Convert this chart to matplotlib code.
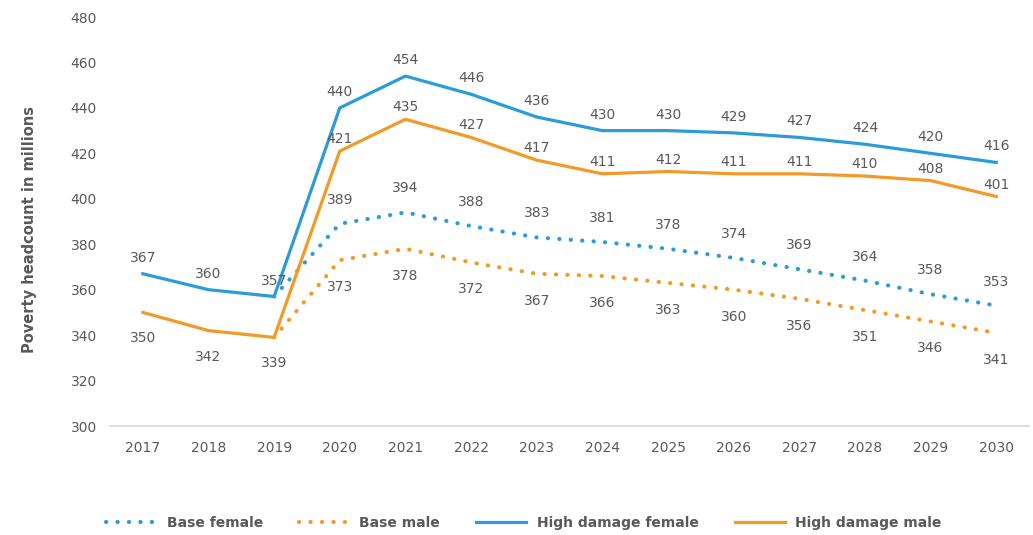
import matplotlib
matplotlib.use('Agg')
import matplotlib.pyplot as plt

plt.rcParams['font.family'] = ['DejaVu Sans']

years = [2017, 2018, 2019, 2020, 2021, 2022, 2023, 2024, 2025, 2026, 2027, 2028, 2029, 2030]
high_female = [367, 360, 357, 440, 454, 446, 436, 430, 430, 429, 427, 424, 420, 416]
high_male = [350, 342, 339, 421, 435, 427, 417, 411, 412, 411, 411, 410, 408, 401]
# base scenarios branch off from 2019
base_years = years[2:]
base_female = [357, 389, 394, 388, 383, 381, 378, 374, 369, 364, 358, 353]
base_male = [339, 373, 378, 372, 367, 366, 363, 360, 356, 351, 346, 341]

blue = '#2B9CD8'
orange = '#F39A26'
txt = '#595959'
px = 0.72  # points per pixel at dpi 100

fig = plt.figure(figsize=(10.33, 5.35), dpi=100)
ax = fig.add_axes([0.1065, 0.2037, 0.8897, 0.7645])

dot = (0, (0.05, 2.7))
ax.plot(base_years, base_female, color=blue, lw=3, ls=dot, dash_capstyle='round',
        label='Base female', zorder=2)
ax.plot(base_years, base_male, color=orange, lw=3, ls=dot, dash_capstyle='round',
        label='Base male', zorder=2)
ax.plot(years, high_female, color=blue, lw=2.3, label='High damage female', zorder=3)
ax.plot(years, high_male, color=orange, lw=2.3, label='High damage male', zorder=3)


def put(x, y, dy):
    ax.annotate(str(y), (x, y), xytext=(0, dy * px), textcoords='offset points',
                ha='center', va='center', fontsize=10, color=txt, zorder=4)


for x, y in zip(years, high_female):
    put(x, y, 16)
for x, y in zip(years, high_male):
    put(x, y, 12 if x >= 2020 else -26)
for x, y in zip(base_years[1:], base_female[1:]):
    put(x, y, 24)
for x, y in zip(base_years[1:], base_male[1:]):
    put(x, y, -27)

ax.set_xlim(2016.5, 2030.5)
ax.set_ylim(300, 480)
ax.set_xticks(years)
ax.set_yticks(range(300, 481, 20))
for s in ['top', 'right', 'left']:
    ax.spines[s].set_visible(False)
ax.spines['bottom'].set_color('#D9D9D9')
ax.spines['bottom'].set_linewidth(1.2)
ax.tick_params(axis='both', length=0, labelsize=10, labelcolor=txt)
ax.tick_params(axis='y', pad=9.5)
ax.tick_params(axis='x', pad=11)
ax.set_ylabel('Poverty headcount in millions', fontsize=10.5, fontweight='bold',
              color=txt)
ax.yaxis.set_label_coords(-0.079, 0.48)

fig.legend(loc='center', bbox_to_anchor=(0.507, 0.022), ncol=4, frameon=False,
           prop={'size': 10, 'weight': 'bold'}, labelcolor=txt, handlelength=3.6,
           columnspacing=2.6, handletextpad=0.75)

fig.savefig('out.png', dpi=100)
